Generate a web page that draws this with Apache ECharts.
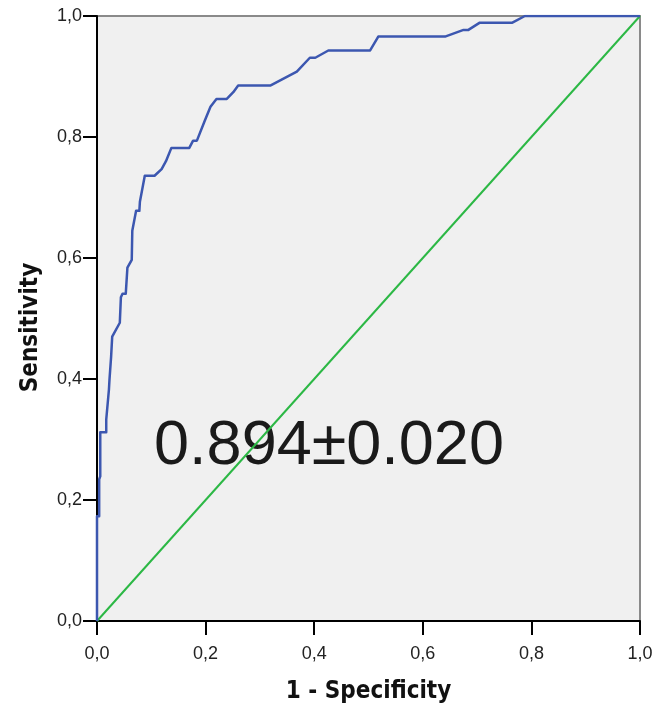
<!DOCTYPE html>
<html>
<head>
<meta charset="utf-8">
<title>ROC curve</title>
<script src="https://cdn.jsdelivr.net/npm/echarts@6/dist/echarts.min.js"></script>
<style>
  html, body { margin: 0; padding: 0; background: #ffffff; }
  #chart { width: 657px; height: 709px; }
</style>
</head>
<body>
<div id="chart"></div>
<script>
// ROC curve points: 1 - specificity (false positive rate) and sensitivity
var fpr = [0, 0, 0.004, 0.004, 0.006, 0.006, 0.017, 0.017, 0.020, 0.022, 0.023, 0.026, 0.028,
  0.042, 0.044, 0.047, 0.053, 0.056, 0.064, 0.065, 0.072, 0.078, 0.079, 0.088, 0.106, 0.119,
  0.127, 0.137, 0.170, 0.177, 0.184, 0.199, 0.209, 0.220, 0.239, 0.251, 0.260, 0.319, 0.368,
  0.392, 0.402, 0.426, 0.503, 0.518, 0.641, 0.675, 0.684, 0.705, 0.765, 0.788, 1];
var tpr = [0, 0.173, 0.173, 0.234, 0.239, 0.312, 0.312, 0.333, 0.333, 0.383, 0.399, 0.437, 0.470,
  0.493, 0.535, 0.541, 0.541, 0.584, 0.597, 0.645, 0.678, 0.678, 0.693, 0.736, 0.736, 0.747,
  0.760, 0.782, 0.782, 0.794, 0.794, 0.828, 0.850, 0.863, 0.863, 0.874, 0.885, 0.885, 0.908,
  0.931, 0.931, 0.943, 0.943, 0.966, 0.966, 0.977, 0.977, 0.989, 0.989, 1, 1];

// Reference line (chance)
var diagX = [0, 1];
var diagY = [0, 1];

// Tick values shared by both axes
var ticks = [0, 0.2, 0.4, 0.6, 0.8, 1.0];

var aucText = '0.894\u00B10.020';

function pairs(xs, ys) {
  var out = [];
  for (var i = 0; i < xs.length; i++) out.push([xs[i], ys[i]]);
  return out;
}

function commaLabel(v) {
  return v.toFixed(1).replace('.', ',');
}

var nameFont = {
  fontFamily: 'DejaVu Sans Condensed, Liberation Sans Narrow, Arial Narrow, sans-serif',
  fontWeight: 'bold',
  fontSize: 24,
  color: '#111'
};

var axisCommon = {
  type: 'value',
  min: ticks[0],
  max: ticks[ticks.length - 1],
  interval: 0.2,
  splitLine: { show: false },
  axisLine: { show: true, onZero: false, lineStyle: { color: '#000', width: 2 } },
  axisTick: { show: true, inside: false, length: 14, lineStyle: { color: '#000', width: 2 } },
  axisLabel: {
    formatter: commaLabel,
    color: '#222',
    fontFamily: 'Liberation Sans, Arial, sans-serif',
    fontSize: 18
  },
  nameLocation: 'middle'
};

var chart = echarts.init(document.getElementById('chart'), null, { renderer: 'canvas' });

chart.setOption({
  animation: false,
  backgroundColor: '#ffffff',
  grid: {
    left: 97, right: 17, top: 16, bottom: 87,
    show: true,
    backgroundColor: '#f0f0f0',
    borderColor: '#8a8a8a',
    borderWidth: 2
  },
  xAxis: Object.assign({}, axisCommon, {
    name: '1 - Specificity',
    nameGap: 59,
    nameTextStyle: nameFont,
    axisLabel: Object.assign({}, axisCommon.axisLabel, { margin: 24 })
  }),
  yAxis: Object.assign({}, axisCommon, {
    name: 'Sensitivity',
    nameGap: 54,
    nameTextStyle: Object.assign({}, nameFont, { padding: [0, 18, 0, 0] }),
    axisLabel: Object.assign({}, axisCommon.axisLabel, { margin: 15 })
  }),
  graphic: [{
    type: 'text',
    z: 1,
    x: 329,
    y: 447,
    style: {
      text: aucText,
      fontFamily: 'Liberation Sans, Arial, sans-serif',
      fontSize: 63,
      fill: '#1a1a1a',
      align: 'center',
      verticalAlign: 'middle'
    }
  }],
  series: [
    {
      type: 'line',
      z: 3,
      data: pairs(diagX, diagY),
      showSymbol: false,
      symbol: 'none',
      lineStyle: { color: '#2cb845', width: 2 }
    },
    {
      type: 'line',
      z: 4,
      data: pairs(fpr, tpr),
      showSymbol: false,
      symbol: 'none',
      lineStyle: { color: '#3c57b0', width: 2.5, join: 'round' }
    }
  ]
});
</script>
</body>
</html>
